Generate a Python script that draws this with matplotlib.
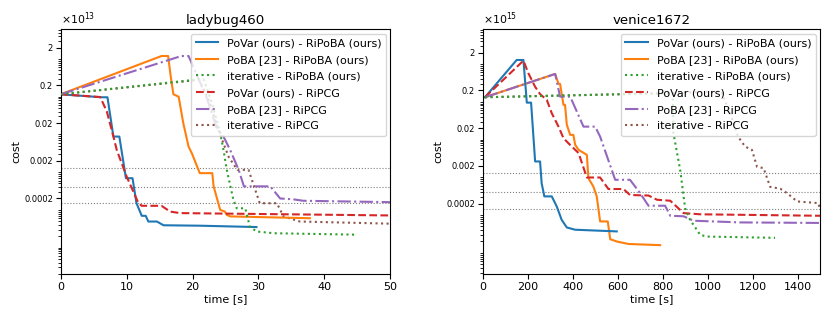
import numpy as np
import matplotlib
matplotlib.use("Agg")
import matplotlib.pyplot as plt
from matplotlib.ticker import FixedLocator, FixedFormatter, LogLocator, NullFormatter

# ---------------- data (cost in units of the axis multiplier) ----------------
labels = ["PoVar (ours) - RiPoBA (ours)", "PoBA [23] - RiPoBA (ours)", "iterative - RiPoBA (ours)",
          "PoVar (ours) - RiPCG", "PoBA [23] - RiPCG", "iterative - RiPCG"]
colors = ["#1f77b4", "#ff7f0e", "#2ca02c", "#d62728", "#9467bd", "#8c564b"]
styles = ["-", "-", ":", "--", "-.", ":"]
zorders = [2.2, 2.1, 2.6, 2.3, 2.4, 2.0]

titles = ["ladybug460", "venice1672"]
multipliers = [r"$\times10^{13}$", r"$\times10^{15}$"]
ytick_vals = [2, 0.2, 0.02, 0.002, 0.0002]
ytick_labels = ["2", "0.2", "0.02", "0.002", "0.0002"]

# ladybug460 (x1e13)
lb_t1 = [0, 6.2, 7.1, 8.0, 8.9, 9.9, 10.9, 11.5, 12.3, 12.9, 13.3, 14.6, 15.6, 21.1, 29.7]
lb_y1 = [0.116, 0.0966, 0.0966, 0.00877, 0.00877, 6.9e-4, 6.9e-4, 1.5e-4, 6.95e-5, 6.95e-5, 4.9e-5, 4.9e-5, 3.9e-5, 3.8e-5, 3.5e-5]
lb_t2 = [0, 15.3, 16.3, 16.7, 17.1, 17.9, 18.6, 19.4, 19.9, 21.1, 23.0, 23.2, 24.2, 24.9, 25.2, 25.7, 37.8]
lb_y2 = [0.116, 1.2, 1.2, 0.34, 0.116, 0.1, 0.0199, 0.00477, 0.00316, 9.4e-4, 9.4e-4, 4.2e-4, 1.0e-4, 9.0e-5, 7.4e-5, 6.7e-5, 6.0e-5]
lb_t3 = [0, 21.1, 21.7, 23.1, 24.2, 24.7, 25.2, 26.2, 26.7, 28.0, 28.7, 29.7, 32.3, 44.6]
lb_y3 = [0.116, 0.29, 0.29, 0.055, 0.0108, 3.9e-3, 1.15e-3, 1.85e-4, 1.1e-4, 1.1e-4, 3.6e-5, 2.67e-5, 2.4e-5, 2.2e-5]
lb_t4 = [0, 6.0, 7.0, 8.0, 8.5, 10.0, 11.8, 12.3, 15.3, 16.6, 18.1, 50]
lb_y4 = [0.116, 0.098, 0.0406, 0.0088, 3.9e-3, 7.7e-4, 1.5e-4, 1.28e-4, 1.28e-4, 9.0e-5, 8.2e-5, 7.1e-5]
lb_t5 = [0, 18.3, 19.4, 20.1, 22.1, 23.6, 24.7, 25.7, 27.0, 27.8, 31.8, 33.3, 35.3, 36.8, 50]
lb_y5 = [0.116, 1.2, 1.2, 0.63, 0.1, 0.016, 0.0088, 3.9e-3, 1.15e-3, 4.2e-4, 4.2e-4, 2.0e-4, 1.9e-4, 1.74e-4, 1.6e-4]
lb_t6 = [0, 21.0, 22.5, 24.0, 25.5, 26.8, 28.5, 30.2, 32.8, 33.8, 36.3, 50]
lb_y6 = [0.116, 0.28, 0.08, 0.012, 2.5e-3, 1.15e-3, 1.15e-3, 1.5e-4, 1.5e-4, 6.7e-5, 4.9e-5, 4.3e-5]
lb_hlines = [1.29e-3, 4.1e-4, 1.5e-4]

# venice1672 (x1e15)
ve_t1 = [10, 151, 181, 196, 215, 233, 255, 262, 274, 307, 329, 351, 374, 411, 596]
ve_y1 = [0.132, 1.28, 1.28, 0.095, 0.095, 2.63e-3, 2.63e-3, 7.0e-4, 3.13e-4, 3.13e-4, 1.7e-4, 7.5e-5, 4.7e-5, 4.1e-5, 3.7e-5]
ve_t2 = [10, 322, 337, 344, 359, 366, 374, 389, 403, 411, 426, 463, 470, 492, 507, 522, 556, 567, 596, 648, 789]
ve_y2 = [0.132, 0.546, 0.3, 0.297, 0.083, 0.083, 0.0245, 0.0133, 0.0133, 7.3e-3, 5.35e-3, 3.94e-3, 9.5e-4, 5.7e-4, 3.13e-4, 6.8e-5, 6.8e-5, 2.3e-5, 2.0e-5, 1.72e-5, 1.6e-5]
ve_t3 = [10, 845, 848, 878, 900, 922, 967, 997, 1300]
ve_y3 = [0.132, 0.17, 0.0148, 1.58e-3, 1.53e-4, 7.5e-5, 3.0e-5, 2.7e-5, 2.5e-5]
ve_t4 = [10, 181, 203, 233, 255, 285, 307, 337, 359, 381, 426, 463, 522, 559, 626, 655, 737, 775, 834, 893, 967, 1500]
ve_y4 = [0.132, 1.23, 0.57, 0.25, 0.16, 0.112, 0.0498, 0.022, 0.0109, 8e-3, 4.4e-3, 9.9e-4, 9.9e-4, 4.9e-4, 4.9e-4, 3.4e-4, 3.3e-4, 2.55e-4, 2.4e-4, 1.13e-4, 1.05e-4, 9.6e-5]
ve_t5 = [10, 322, 344, 389, 448, 500, 522, 589, 655, 700, 737, 811, 834, 893, 937, 1145, 1500]
ve_y5 = [0.132, 0.546, 0.137, 0.137, 0.022, 0.022, 0.012, 8.6e-4, 8.6e-4, 3.8e-4, 1.77e-4, 1.77e-4, 9.6e-5, 9.3e-5, 7.1e-5, 6.4e-5, 6.2e-5]
ve_t6 = [10, 841, 1060, 1100, 1136, 1167, 1182, 1197, 1220, 1249, 1278, 1323, 1354, 1398, 1492, 1500]
ve_y6 = [0.132, 0.17, 0.19, 0.05, 0.0118, 6.5e-3, 5.9e-3, 5.35e-3, 1.9e-3, 1.75e-3, 5.6e-4, 5.0e-4, 3.8e-4, 2.3e-4, 2.08e-4, 1.5e-4]
ve_hlines = [1.32e-3, 4.06e-4, 1.44e-4]

panels = [
    dict(series=[(lb_t1, lb_y1), (lb_t2, lb_y2), (lb_t3, lb_y3), (lb_t4, lb_y4), (lb_t5, lb_y5), (lb_t6, lb_y6)],
         hlines=lb_hlines, xlim=(0, 50), xticks=[0, 10, 20, 30, 40, 50], ylim=(2.0e-6, 6.2)),
    dict(series=[(ve_t1, ve_y1), (ve_t2, ve_y2), (ve_t3, ve_y3), (ve_t4, ve_y4), (ve_t5, ve_y5), (ve_t6, ve_y6)],
         hlines=ve_hlines, xlim=(0, 1500), xticks=[0, 200, 400, 600, 800, 1000, 1200, 1400], ylim=(2.77e-6, 8.4)),
]

fig = plt.figure(figsize=(8.3, 3.2), dpi=100)
boxes = [[0.0731, 0.144, 0.4702 - 0.0731, 0.909 - 0.144],
         [0.5816, 0.144, 0.988 - 0.5816, 0.909 - 0.144]]

for i, p in enumerate(panels):
    ax = fig.add_axes(boxes[i])
    for (t, y), lab, c, ls, z in zip(p["series"], labels, colors, styles, zorders):
        ax.plot(t, y, color=c, linestyle=ls, linewidth=1.5, label=lab, zorder=z)
    for h in p["hlines"]:
        ax.axhline(h, color="gray", linestyle=":", linewidth=0.8, zorder=1)
    ax.set_yscale("log")
    ax.set_xlim(*p["xlim"])
    ax.set_ylim(*p["ylim"])
    ax.set_xticks(p["xticks"])
    ax.yaxis.set_major_locator(FixedLocator(ytick_vals))
    ax.yaxis.set_major_formatter(FixedFormatter(ytick_labels))
    ax.yaxis.set_minor_locator(LogLocator(base=10, subs=np.arange(1, 10), numticks=50))
    ax.yaxis.set_minor_formatter(NullFormatter())
    ax.tick_params(axis="y", which="major", labelsize=6, length=3.5, pad=2)
    ax.tick_params(axis="y", which="minor", length=2)
    ax.tick_params(axis="x", labelsize=8, length=3.5, pad=2)
    ax.set_title(titles[i], fontsize=9.6, pad=4)
    ax.set_xlabel("time [s]", fontsize=8, labelpad=2)
    ax.set_ylabel("cost", fontsize=8, labelpad=2)
    ax.text(0.0, 1.01, multipliers[i], transform=ax.transAxes, fontsize=7.8, ha="left", va="bottom")
    leg = ax.legend(loc="upper right", fontsize=8, labelspacing=0.6, borderaxespad=0.4)
    leg.set_zorder(5)

fig.savefig("out.png", dpi=100)
